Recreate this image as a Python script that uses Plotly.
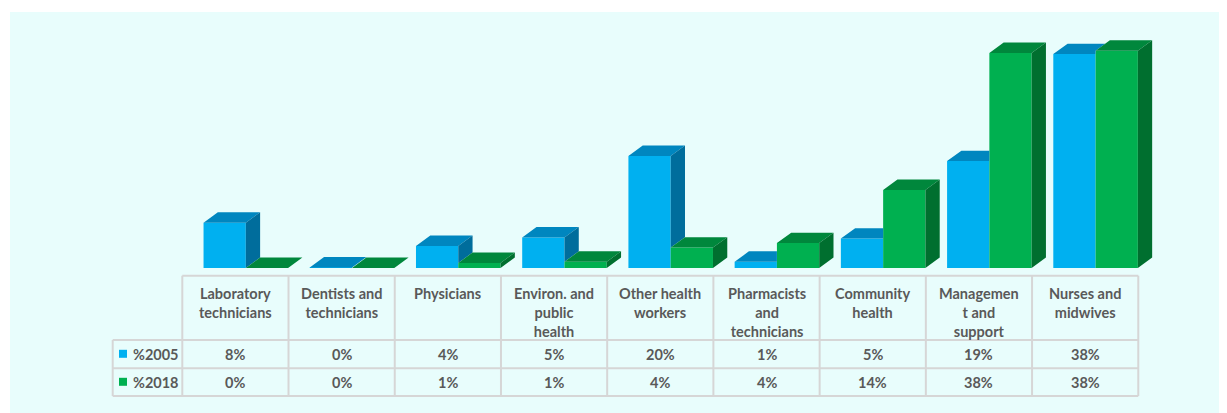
import plotly.graph_objects as go

# ---------------- data ----------------
categories = ["Laboratory<br>technicians", "Dentists and<br>technicians", "Physicians",
              "Environ. and<br>public<br>health", "Other health<br>workers",
              "Pharmacists<br>and<br>technicians", "Community<br>health",
              "Managemen<br>t and<br>support", "Nurses and<br>midwives"]
series_names = ["%2005", "%2018"]
values_2005 = [8.0, 0.1, 3.9, 5.4, 19.8, 1.1, 5.2, 18.9, 37.8]
values_2018 = [0.0, 0.0, 0.9, 1.1, 3.6, 4.4, 13.8, 38.0, 38.4]

# ---------------- styling / geometry ----------------
FRONT = ["#00B0F0", "#00B050"]
TOP = ["#0086BF", "#00873C"]
SIDE = ["#006D9C", "#006F2F"]
TXT = "#595959"
GRID = "#D6D6D6"
BG = "#E8FDFC"
FONT = "Lato"
FS = 14.5

PAGE_OFF = 8                       # default page body margin
SCR_W, SCR_H = 1227, 413
W_FIG, H_FIG = SCR_W - PAGE_OFF, SCR_H - PAGE_OFF
PLOT_L, PLOT_T = 10, 12            # screen position of the cyan area
PX_PER_UNIT = 106.22
X0_PX = 182.3          # screen pixel of category boundary -0.5
PX_PER_PCT = 5.66
Y0_PX = 268.0          # screen pixel of 0 %


def xd(px):
    return -0.5 + (px - X0_PX) / PX_PER_UNIT


def yd(py):
    return (Y0_PX - py) / PX_PER_PCT


W = 0.398
OFF = [-0.300, 0.098]
DX = 14.3 / PX_PER_UNIT
DY = 10.4 / PX_PER_PCT

n = len(categories)
xs = list(range(n))
series = [values_2005, values_2018]

fig = go.Figure()

# front faces
for s, vals in enumerate(series):
    fig.add_trace(go.Bar(x=xs, y=vals, width=W, offset=OFF[s], base=0,
                         marker=dict(color=FRONT[s], line=dict(width=0)),
                         name=series_names[s], showlegend=False))


def add_poly(px_list, py_list, color):
    fig.add_trace(go.Scatter(x=px_list, y=py_list, mode="lines", fill="toself",
                             fillcolor=color, line=dict(width=0, color=color),
                             hoverinfo="skip", showlegend=False))


# top and side faces
for s, vals in enumerate(series):
    tx, ty, sx, sy = [], [], [], []
    for i, v in enumerate(vals):
        x0 = i + OFF[s]
        x1 = x0 + W
        if s == 0:
            g = values_2018[i]
            gc = min(max(g, v), v + DY)
            tx += [x0, x1, x1, x1 + DX * (v + DY - gc) / DY, x0 + DX, x0, None]
            ty += [v, v, gc, v + DY, v + DY, v, None]
            if v > g:
                sx += [x1, x1 + DX, x1 + DX, x1, x1, None]
                sy += [g, g + DY, v + DY, v, g, None]
        else:
            tx += [x0, x1, x1 + DX, x0 + DX, x0, None]
            ty += [v, v, v + DY, v + DY, v, None]
            sx += [x1, x1 + DX, x1 + DX, x1, x1, None]
            sy += [0, DY, v + DY, v, 0, None]
    add_poly(tx, ty, TOP[s])
    if sx:
        add_poly(sx, sy, SIDE[s])

# ---------------- data table ----------------
shapes = []
line = dict(color=GRID, width=2)
y_head, y_r1, y_r2, y_bot = 275.7, 340.0, 368.3, 396.0
x_left = 112.7
shapes.append(dict(type="line", xref="x", yref="y", x0=-0.5, x1=n - 0.5,
                   y0=yd(y_head), y1=yd(y_head), line=line))
for py in (y_r1, y_r2, y_bot):
    shapes.append(dict(type="line", xref="x", yref="y", x0=xd(x_left), x1=n - 0.5,
                       y0=yd(py), y1=yd(py), line=line))
for k in range(n + 1):
    shapes.append(dict(type="line", xref="x", yref="y", x0=k - 0.5, x1=k - 0.5,
                       y0=yd(y_head), y1=yd(y_bot), line=line))
shapes.append(dict(type="line", xref="x", yref="y", x0=xd(x_left), x1=xd(x_left),
                   y0=yd(y_r1), y1=yd(y_bot), line=line))

font = dict(family=FONT, size=FS, color=TXT, weight="bold")
annotations = []
for i, c in enumerate(categories):
    annotations.append(dict(x=i, y=yd(283.0), xref="x", yref="y", text=c, showarrow=False,
                            xanchor="center", yanchor="top", align="center", font=font))

row_centers = [354.3, 382.3]
for s, vals in enumerate(series):
    yc = row_centers[s]
    for i, v in enumerate(vals):
        annotations.append(dict(x=i, y=yd(yc), xref="x", yref="y", text=f"{round(v)}%",
                                showarrow=False, xanchor="center", yanchor="middle", font=font))
    annotations.append(dict(x=xd(130.5), y=yd(yc), xref="x", yref="y", text=series_names[s],
                            showarrow=False, xanchor="left", yanchor="middle", font=font))
    shapes.append(dict(type="rect", xref="x", yref="y", x0=xd(119), x1=xd(127),
                       y0=yd(yc - 4.5), y1=yd(yc + 3.5), fillcolor=FRONT[s],
                       line=dict(width=0)))

fig.update_layout(
    width=W_FIG, height=H_FIG, autosize=False,
    margin=dict(l=PLOT_L - PAGE_OFF, r=0, t=PLOT_T - PAGE_OFF, b=0, pad=0),
    paper_bgcolor="white", plot_bgcolor=BG,
    barmode="overlay", showlegend=False,
    xaxis=dict(range=[xd(PLOT_L), xd(SCR_W)], visible=False, fixedrange=True),
    yaxis=dict(range=[yd(SCR_H), yd(PLOT_T)], visible=False, fixedrange=True),
    shapes=shapes, annotations=annotations,
)

fig.write_html("out.html")
